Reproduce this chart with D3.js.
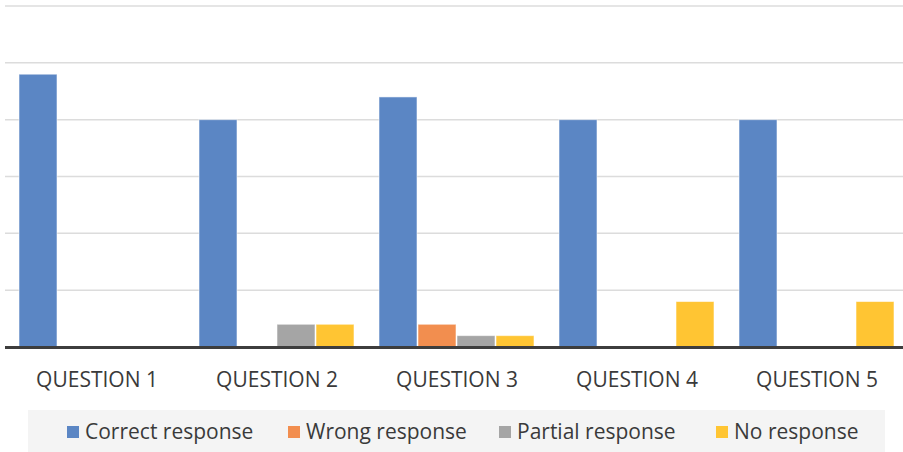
<!DOCTYPE html>
<html>
<head>
<meta charset="utf-8">
<script src="https://cdn.jsdelivr.net/npm/d3@7"></script>
<style>
  body { margin: 0; background: #fff; }
  svg { display: block; font-family: "Open Sans", sans-serif; }
</style>
</head>
<body>
<div id="vizArea"></div>
<script>
// data (gridline step = 20)
const questions = ["QUESTION 1", "QUESTION 2", "QUESTION 3", "QUESTION 4", "QUESTION 5"];
const seriesNames = ["Correct response", "Wrong response", "Partial response", "No response"];
const correct = [96, 80, 88, 80, 80];
const wrong = [0, 0, 8, 0, 0];
const partial = [0, 8, 4, 0, 0];
const noResponse = [0, 8, 4, 16, 16];
const yTicks = [0, 20, 40, 60, 80, 100, 120];
const colors = ["#5b86c4", "#f28e4f", "#a5a5a5", "#ffc533"];

const values = [correct, wrong, partial, noResponse];
const rows = questions.map((q, i) => ({
  q: q,
  vals: seriesNames.map((s, j) => ({ key: s, value: values[j][i] }))
}));

const W = 903, H = 452;
const margin = {top: 6, right: -2, bottom: 105, left: 5};
const width = W - margin.left - margin.right,
    height = H - margin.top - margin.bottom;

const svg = d3.select("#vizArea")
  .append("svg")
  .attr("width", W)
  .attr("height", H);

const g = svg.append("g")
  .attr("transform", "translate(" + margin.left + "," + margin.top + ")");

const x0 = d3.scaleBand()
  .domain(questions)
  .range([0, width])
  .paddingInner(0)
  .paddingOuter(0);

// bars 38px wide with a 1px gap between them
const x1 = d3.scaleBand()
  .domain(seriesNames)
  .range([14, 169])
  .paddingInner(1 / 39);

const y = d3.scaleLinear()
  .domain([0, 120])
  .range([height, 0]);

const color = d3.scaleOrdinal().domain(seriesNames).range(colors);

// gridlines
g.append("g")
  .selectAll("line")
  .data(yTicks.slice(1))
  .join("line")
  .attr("x1", 0)
  .attr("x2", W - margin.left)
  .attr("y1", d => y(d))
  .attr("y2", d => y(d))
  .attr("stroke", "#dcdcdc")
  .attr("stroke-width", 1.5);

// bars
g.append("g")
  .selectAll("g")
  .data(rows)
  .join("g")
  .attr("transform", d => "translate(" + x0(d.q) + ",0)")
  .selectAll("rect")
  .data(d => d.vals.filter(v => v.value > 0))
  .join("rect")
  .attr("x", d => x1(d.key))
  .attr("width", x1.bandwidth())
  .attr("y", d => y(d.value))
  .attr("height", d => y(0) - y(d.value))
  .attr("fill", d => color(d.key))
  .attr("stroke", "rgba(255,255,255,0.55)")
  .attr("stroke-width", 1);

// baseline
g.append("line")
  .attr("x1", 0)
  .attr("x2", W - margin.left)
  .attr("y1", y(0) + 0.5)
  .attr("y2", y(0) + 0.5)
  .attr("stroke", "#3d3d3d")
  .attr("stroke-width", 3);

// x axis labels
const xAxis = g.append("g")
  .attr("transform", `translate(0,${height})`)
  .call(d3.axisBottom(x0).tickSize(0).tickPadding(25));
xAxis.select(".domain").remove();
xAxis.selectAll("text")
  .attr("fill", "#3a3a3a")
  .style("font-size", "21px")
  .style("font-family", "'Open Sans', sans-serif");
xAxis.selectAll(".tick")
  .attr("transform", d => "translate(" + (x0(d) + x0.bandwidth() / 2 + 2) + ",0)");

// legend
const legend = svg.append("g");
legend.append("rect")
  .attr("x", 28)
  .attr("y", 410)
  .attr("width", 857)
  .attr("height", 42)
  .attr("fill", "#f4f4f4");

const legendX = [67, 288, 499, 716];
const items = legend.selectAll("g.item")
  .data(seriesNames)
  .join("g")
  .attr("class", "item")
  .attr("transform", (d, i) => "translate(" + legendX[i] + ",426)");
items.append("rect")
  .attr("width", 12)
  .attr("height", 12)
  .attr("fill", d => color(d));
items.append("text")
  .attr("x", 18)
  .attr("y", 13)
  .attr("fill", "#3a3a3a")
  .style("font-size", "21px")
  .text(d => d);
</script>
</body>
</html>
